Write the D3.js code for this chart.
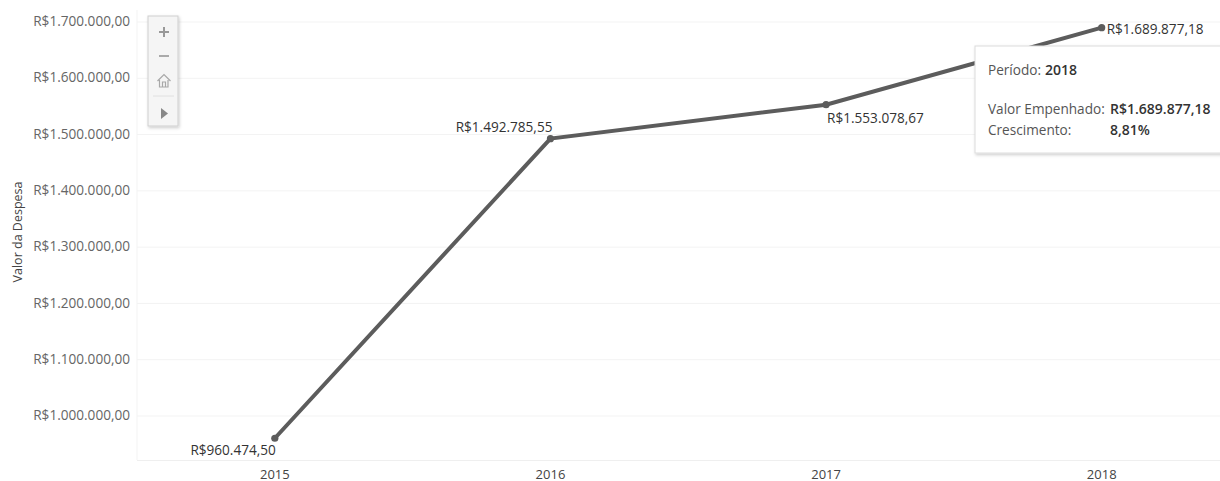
<!DOCTYPE html>
<html>
<head>
<meta charset="utf-8">
<script src="https://cdn.jsdelivr.net/npm/d3@7"></script>
<style>
  html, body { margin: 0; padding: 0; background: #fff; overflow: hidden; }
  svg { display: block; }
  text { font-family: "Open Sans", sans-serif; }
</style>
</head>
<body>
<svg id="chart" width="1220" height="481"></svg>
<script>
const years = ["2015", "2016", "2017", "2018"];
const valores = [960474.50, 1492785.55, 1553078.67, 1689877.18];
const rotulos = ["R$960.474,50", "R$1.492.785,55", "R$1.553.078,67", "R$1.689.877,18"];
const yTicks = [1000000, 1100000, 1200000, 1300000, 1400000, 1500000, 1600000, 1700000];
const tooltipPeriodo = "2018";
const tooltipValor = "R$1.689.877,18";
const tooltipCrescimento = "8,81%";

const svg = d3.select("#chart");

const x = d3.scaleBand().domain(years).range([137, 1239.5]);
const y = d3.scaleLinear().domain([1000000, 1700000]).range([416, 22]);
const xc = d => x(d) + x.bandwidth() / 2;
const moeda = v => "R$" + d3.format(",.0f")(v).replace(/,/g, ".") + ",00";

// grid
svg.append("g").selectAll("line")
  .data(yTicks)
  .join("line")
  .attr("x1", 137).attr("x2", 1220)
  .attr("y1", d => y(d)).attr("y2", d => y(d))
  .attr("stroke", "#f3f3f3");

svg.append("line")
  .attr("x1", 137).attr("x2", 137)
  .attr("y1", 10).attr("y2", 460)
  .attr("stroke", "#f3f3f3");

svg.append("line")
  .attr("x1", 137).attr("x2", 1220)
  .attr("y1", 460.5).attr("y2", 460.5)
  .attr("stroke", "#efefef");

// axes
const yAxis = d3.axisLeft(y).tickValues(yTicks).tickFormat(moeda).tickSize(0).tickPadding(7);
const gy = svg.append("g").attr("transform", "translate(137,-0.7)").call(yAxis);
gy.select(".domain").remove();
gy.selectAll("text").attr("fill", "#666").style("font-size", "13.6px").style("font-family", '"Open Sans", sans-serif');

const xAxis = d3.axisBottom(x).tickSize(0).tickPadding(10);
const gx = svg.append("g").attr("transform", "translate(0,460)").call(xAxis);
gx.select(".domain").remove();
gx.selectAll("text").attr("fill", "#444").style("font-size", "13px").style("font-family", '"Open Sans", sans-serif');

svg.append("text")
  .attr("transform", "translate(22,232) rotate(-90)")
  .attr("text-anchor", "middle")
  .attr("fill", "#444")
  .style("font-size", "12.5px")
  .text("Valor da Despesa");

// line
const line = d3.line().x((d, i) => xc(years[i])).y(d => y(d));
svg.append("path")
  .datum(valores)
  .attr("d", line)
  .attr("fill", "none")
  .attr("stroke", "#5c5c5c")
  .attr("stroke-width", 4);

svg.append("g").selectAll("circle")
  .data(valores)
  .join("circle")
  .attr("cx", (d, i) => xc(years[i]))
  .attr("cy", d => y(d))
  .attr("r", 3.6)
  .attr("fill", "#5c5c5c");

// data labels, each one sits differently around its point
const anchor = ["end", "end", "start", "start"];
const dx = [1, 2, 1, 5];
const dy = [17, -7, 18, 6];
svg.append("g").selectAll("text")
  .data(valores)
  .join("text")
  .attr("x", (d, i) => xc(years[i]) + dx[i])
  .attr("y", (d, i) => y(d) + dy[i])
  .attr("text-anchor", (d, i) => anchor[i])
  .attr("fill", "#333")
  .style("font-size", "13.6px")
  .text((d, i) => rotulos[i]);

// zoom controls
const zc = svg.append("g").attr("transform", "translate(148,16)");
const sombra = svg.append("defs").append("filter").attr("id", "sombra")
  .attr("x", "-20%").attr("y", "-20%").attr("width", "140%").attr("height", "140%");
sombra.append("feDropShadow").attr("dx", 1).attr("dy", 1.5).attr("stdDeviation", 1.5)
  .attr("flood-color", "#000").attr("flood-opacity", 0.2);

zc.append("rect").attr("width", 30).attr("height", 110)
  .attr("fill", "#f5f5f5").attr("stroke", "#cfcfcf").attr("filter", "url(#sombra)");
zc.append("path").attr("d", "M11 16H21M16 11V21").attr("stroke", "#999").attr("stroke-width", 2).attr("fill", "none");
zc.append("path").attr("d", "M11 40H21").attr("stroke", "#aaa").attr("stroke-width", 2).attr("fill", "none");
zc.append("path").attr("d", "M9.5 65L16 58.5L22.5 65M11.5 64V71H20V64M14.5 71V66H17.5V71")
  .attr("stroke", "#a8a8a8").attr("stroke-width", 1.2).attr("fill", "none");
zc.append("line").attr("x1", 5).attr("x2", 26).attr("y1", 80).attr("y2", 80).attr("stroke", "#e0e0e0");
zc.append("path").attr("d", "M13 92L20 97.5L13 103Z").attr("fill", "#888");

// tooltip
const tip = svg.append("g").attr("transform", "translate(975,46)");
tip.append("rect").attr("width", 260).attr("height", 107)
  .attr("fill", "#fff").attr("stroke", "#dcdcdc").attr("filter", "url(#sombra)");

const tipText = (tx, ty, s, bold) => tip.append("text")
  .attr("x", tx).attr("y", ty)
  .attr("fill", bold ? "#333" : "#555")
  .style("font-size", bold ? "14px" : "13.6px")
  .style("font-weight", bold ? 600 : 400)
  .text(s);

tipText(13, 29, "Período:");
tipText(70, 29, tooltipPeriodo, true);
tipText(13, 68, "Valor Empenhado:");
tipText(135, 68, tooltipValor, true);
tipText(13, 89, "Crescimento:");
tipText(135, 89, tooltipCrescimento, true);
</script>
</body>
</html>
